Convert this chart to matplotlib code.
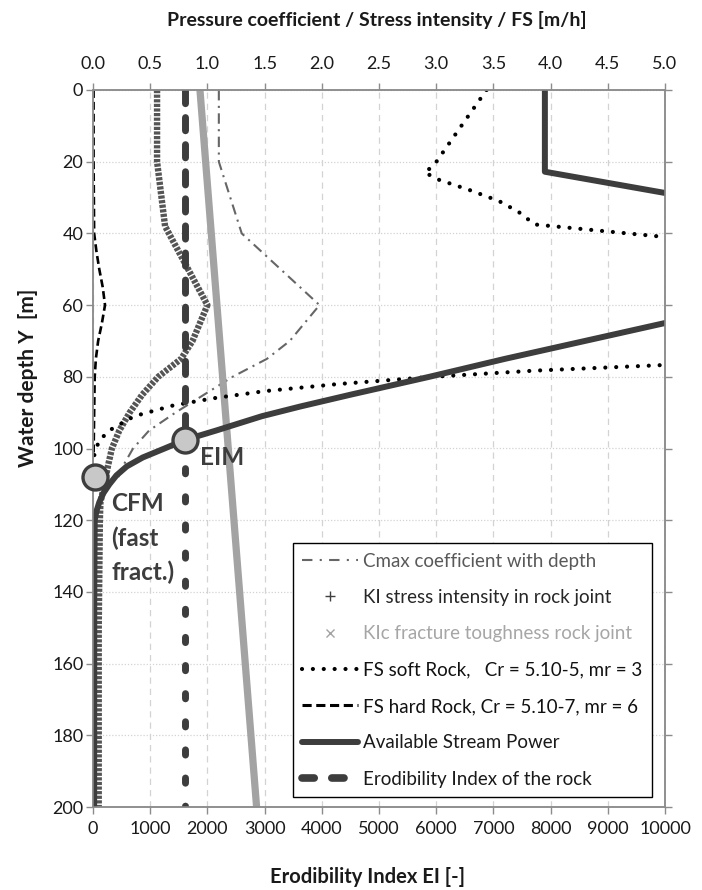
import numpy as np
import matplotlib.pyplot as plt
from matplotlib.lines import Line2D

plt.rcParams['font.family'] = ['Lato', 'DejaVu Sans']

# --- series read against the top axis (pressure coeff. / stress intensity / FS) ---
cmax_depth = [0, 20, 40, 60, 70, 75, 80, 85, 90, 95, 100, 105, 108]
cmax = [1.10, 1.10, 1.30, 1.98, 1.72, 1.52, 1.22, 0.97, 0.72, 0.49, 0.35, 0.26, 0.22]

ki_depth = [0, 20, 38, 60, 70, 75, 80, 85, 90, 95, 100, 105, 110, 115, 120, 150, 200]
ki = [0.56, 0.56, 0.63, 1.00, 0.87, 0.77, 0.57, 0.43, 0.32, 0.23, 0.165, 0.13, 0.10, 0.065, 0.06, 0.05, 0.05]

kic_depth = [0, 200]
kic = [0.935, 1.43]

soft_depth = [0, 10, 21, 23, 25, 28, 31, 34, 37.5, 41, 50, 65, 76.7, 78.3, 80, 82, 84, 86,
              88, 91, 95, 98, 102]
fs_soft = [3.44, 3.22, 2.98, 2.90, 3.02, 3.30, 3.55, 3.72, 3.86, 5.0, 9.0, 9.0, 5.0, 3.85, 2.97,
           2.15, 1.50, 1.05, 0.70, 0.36, 0.14, 0.05, 0.01]

hard_depth = [0, 20, 40, 45, 50, 55, 60, 65, 70, 75, 80, 90, 102]
fs_hard = [0.005, 0.005, 0.01, 0.03, 0.055, 0.085, 0.105, 0.078, 0.045, 0.025, 0.015, 0.01, 0.005]

# --- series read against the bottom axis (erodibility index) ---
sp_depth = [0, 22.8, 40, 55, 65, 70, 75, 80, 85, 88.3, 91, 95, 97.6, 100, 102.5, 105, 107.5,
            110, 112.5, 115, 117.5, 120, 140, 200]
stream_power = [7900, 7900, 14000, 13600, 10000, 8600, 7200, 5880, 4500, 3620, 2950, 2150,
                1610, 1250, 870, 590, 410, 285, 180, 110, 60, 30, 22, 20]

ei_rock = 1610
eim_depth = 97.6
cfm_ei, cfm_depth = 30, 108

dark = '#3d3d3d'

fig = plt.figure(figsize=(7.02, 8.90), dpi=100)
ax = fig.add_axes([93 / 702, 1 - 807 / 890, 572 / 702, 717 / 890])
ax2 = ax.twiny()
ax.set_zorder(2)
ax.patch.set_visible(False)

ax.set_xlim(0, 10000)
ax.set_ylim(200, 0)
ax2.set_xlim(0, 5)
ax.set_xticks(range(0, 10001, 1000))
ax.set_yticks(range(0, 201, 20))
ax2.set_xticks(np.arange(0, 5.01, 0.5))
ax2.xaxis.set_major_formatter('{x:.1f}')

# grid sits on the lower axes so it stays behind every curve
ax2.yaxis.set_visible(True)
ax2.tick_params(axis='y', left=False, right=False, labelleft=False, labelright=False)
ax2.grid(axis='x', color='#d3d3d3', lw=0.9, ls=(0, (5, 4)))
ax2.grid(axis='y', color='#d3d3d3', lw=0.9, ls=(0, (1, 1.5)))

for a in (ax, ax2):
    for s in a.spines.values():
        s.set_color('#8c8c8c')
        s.set_linewidth(1.1)

ax.tick_params(axis='both', direction='out', length=5, width=1, color='#8c8c8c',
               labelsize=13, labelcolor='#1a1a1a')
ax.tick_params(axis='y', right=True, pad=2)
ax.tick_params(axis='x', pad=5)
ax2.tick_params(axis='x', direction='out', length=5, width=1, color='#8c8c8c',
                labelsize=13, labelcolor='#1a1a1a', pad=8)

# top-axis curves
ax2.plot(cmax, cmax_depth, color='#666666', lw=1.5, dashes=(5, 2.6, 1, 2.6))
ax2.plot(kic, kic_depth, color='#a3a3a3', lw=5.2, solid_capstyle='butt')
ax2.plot(ki, ki_depth, color='#555555', lw=4.6, dashes=(0.5, 0.22), dash_capstyle='butt')
ax2.plot(fs_soft, soft_depth, color='black', lw=3.0, dashes=(0.01, 2.6), dash_capstyle='round')
ax2.plot(fs_hard, hard_depth, color='black', lw=1.9, dashes=(3.0, 1.5))

# bottom-axis curves
ax.plot(stream_power, sp_depth, color=dark, lw=4.3, solid_joinstyle='round')
ax.plot([ei_rock, ei_rock], [0, eim_depth], color=dark, lw=5, dashes=(1.9, 2.0),
        dash_capstyle='round')
ax.plot([ei_rock, ei_rock], [eim_depth, 200], color=dark, lw=5, dashes=(0.75, 3.3),
        dash_capstyle='round')
ax.plot([ei_rock], [eim_depth], 'o', ms=18, mfc='#c8c8c8', mec=dark, mew=2.4, zorder=5)
ax.plot([cfm_ei], [cfm_depth], 'o', ms=18, mfc='#c8c8c8', mec=dark, mew=2.4, zorder=5,
        clip_on=False)

ax.text(1870, 102.6, 'EIM', fontsize=17.5, fontweight='bold', color=dark,
        ha='left', va='center')
ax.text(315, 125, 'CFM\n(fast\nfract.)', fontsize=17.5, fontweight='bold', color=dark,
        ha='left', va='center', linespacing=1.55)

handles = [
    Line2D([], [], color='#666666', lw=1.5, dashes=(5, 3.5, 1, 3.5)),
    Line2D([], [], ls='none', marker='+', color='#404040', ms=7, mew=1),
    Line2D([], [], ls='none', marker='x', color='#a3a3a3', ms=5.5, mew=1),
    Line2D([], [], color='black', lw=3.0, dashes=(0.01, 2.6), dash_capstyle='round'),
    Line2D([], [], color='black', lw=2.2, dashes=(3.0, 1.5)),
    Line2D([], [], color=dark, lw=4.3, solid_capstyle='round'),
    Line2D([], [], color=dark, lw=5.5, dashes=(1.6, 2.3), dash_capstyle='round'),
]
labels = [
    'Cmax coefficient with depth',
    'KI stress intensity in rock joint',
    'KIc fracture toughness rock joint',
    'FS soft Rock,   Cr = 5.10-5, mr = 3',
    'FS hard Rock, Cr = 5.10-7, mr = 6',
    'Available Stream Power',
    'Erodibility Index of the rock',
]
text_colors = ['#595959', '#262626', '#a6a6a6', '#111111', '#111111', '#1a1a1a', '#1a1a1a']

leg = ax.legend(handles, labels, loc='lower right', bbox_to_anchor=(0.977, 0.014),
                fontsize=13.5, frameon=True, fancybox=False, edgecolor='black',
                framealpha=1, handlelength=3.0, handletextpad=0.27, labelspacing=1.03,
                borderpad=0.5, borderaxespad=0)
leg.get_frame().set_linewidth(1.0)
for t, c in zip(leg.get_texts(), text_colors):
    t.set_color(c)

fig.text(377 / 702, 1 - 20 / 890, 'Pressure coefficient / Stress intensity / FS [m/h]',
         ha='center', va='center', fontsize=14, fontweight='bold', color='#1a1a1a')
fig.text(368 / 702, 1 - 877 / 890, 'Erodibility Index EI [-]',
         ha='center', va='center', fontsize=14.5, fontweight='bold', color='#1a1a1a')
fig.text(28 / 702, 1 - 378 / 890, 'Water depth Y  [m]', rotation=90,
         ha='center', va='center', fontsize=15, fontweight='bold', color='#1a1a1a')

fig.savefig('out.png', dpi=100, facecolor='white')
